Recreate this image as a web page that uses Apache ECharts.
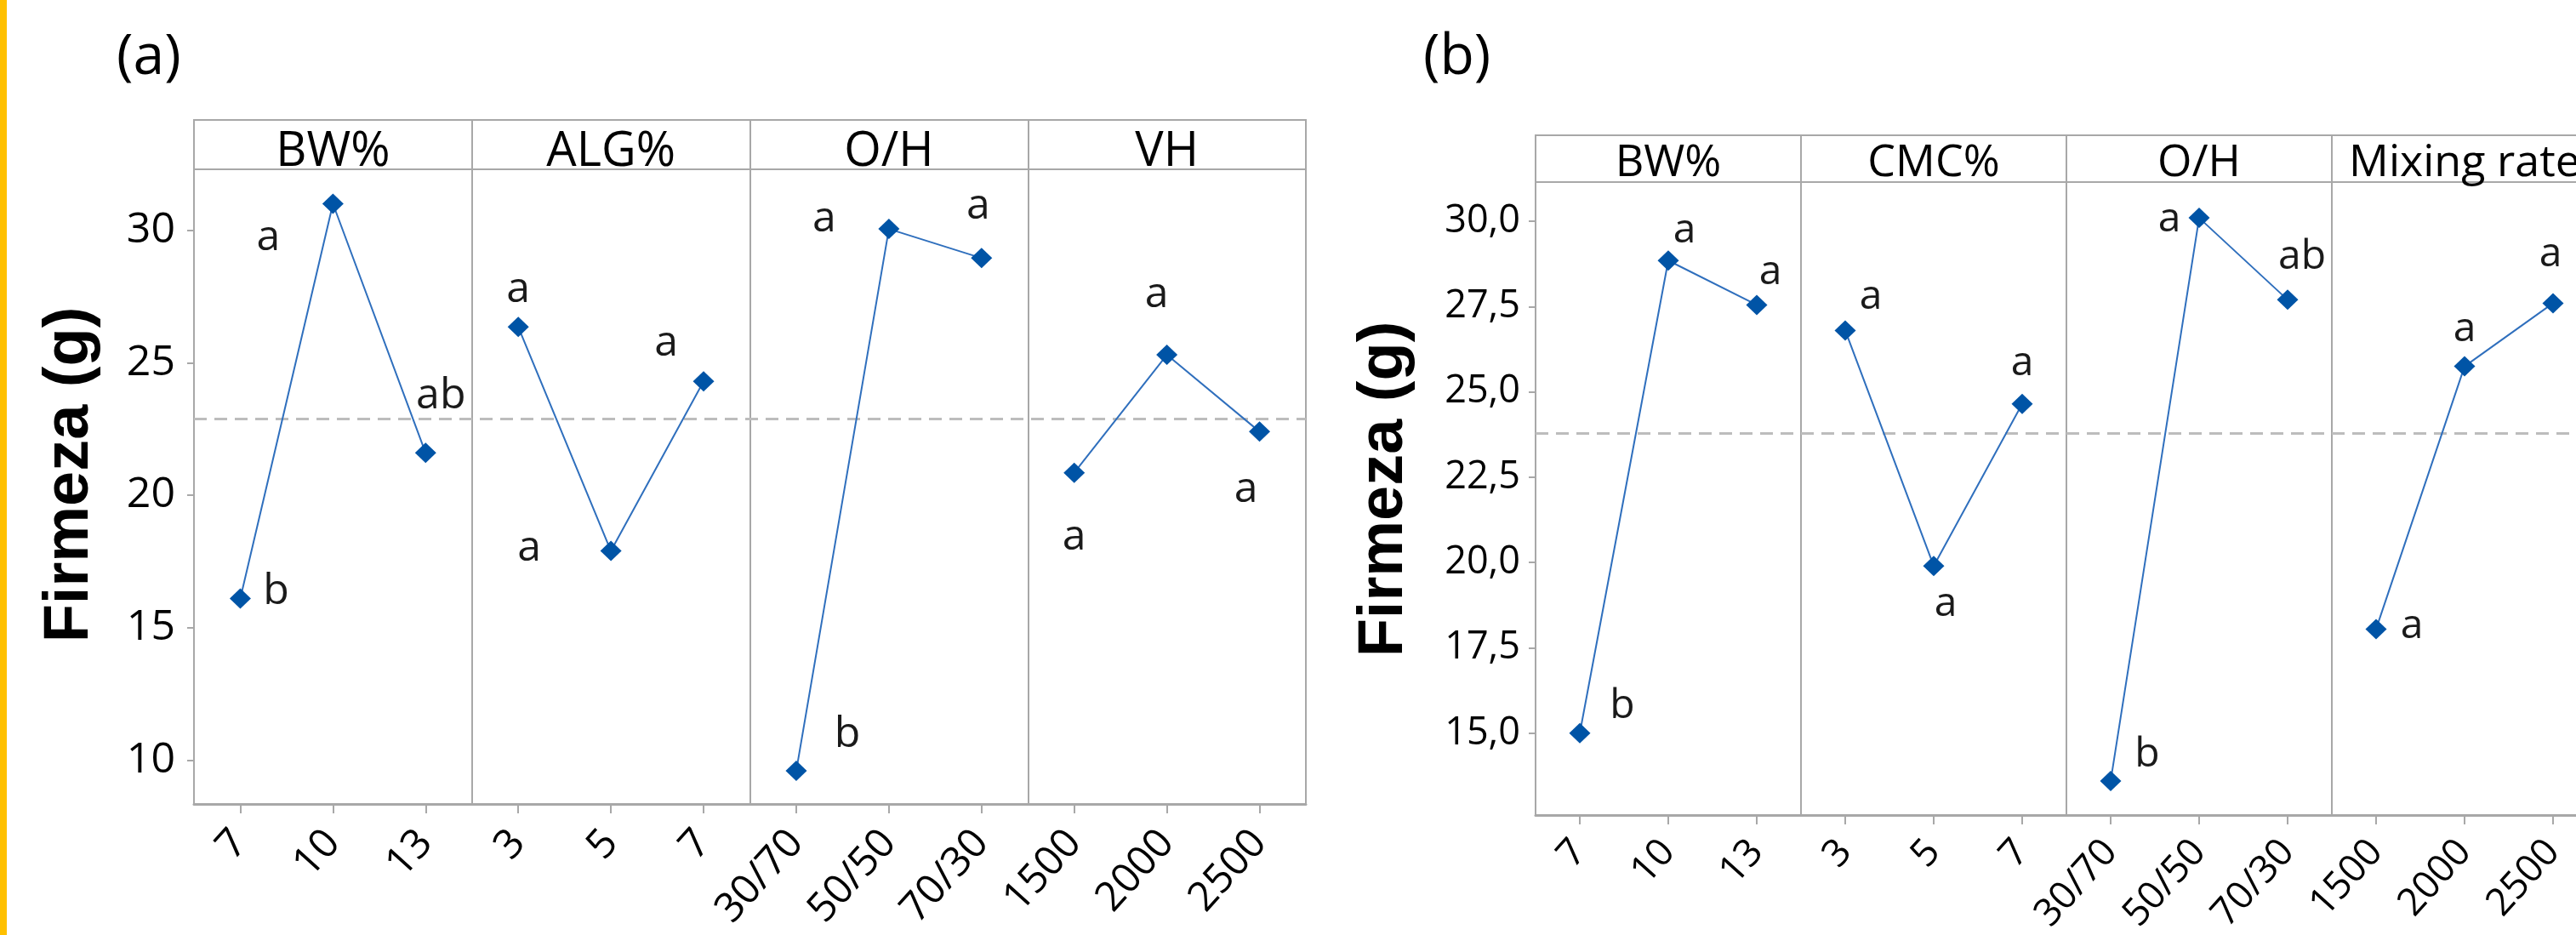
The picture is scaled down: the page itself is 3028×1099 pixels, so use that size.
<!DOCTYPE html>
<html>
<head>
<meta charset="utf-8">
<script src="https://cdn.jsdelivr.net/npm/echarts@6/dist/echarts.min.js"></script>
<style>
html,body{margin:0;padding:0;background:#fff;}
#c{width:3028px;height:1099px;}
</style>
</head>
<body>
<div id="c"></div>
<script>
// ---------- DATA ----------
// Panel (a)
const catsA = ['7','10','13','3','5','7','30/70','50/50','70/30','1500','2000','2500'];
const factorsA = ['BW%','ALG%','O/H','VH'];
const bwA  = [16.1, 31.0, 21.6];
const algA = [26.35, 17.9, 24.3];
const ohA  = [9.6, 30.05, 28.95];
const vhA  = [20.85, 25.3, 22.4];
const lettersA = ['b','a','ab','a','a','a','b','a','a','a','a','a'];
const meanA = 22.9;
const yTicksA = [10, 15, 20, 25, 30];

// Panel (b)
const catsB = ['7','10','13','3','5','7','30/70','50/50','70/30','1500','2000','2500'];
const factorsB = ['BW%','CMC%','O/H','Mixing rate'];
const bwB  = [15.0, 28.85, 27.55];
const cmcB = [26.8, 19.9, 24.65];
const ohB  = [13.6, 30.1, 27.7];
const mixB = [18.05, 25.75, 27.6];
const lettersB = ['b','a','a','a','a','a','b','a','ab','a','a','a'];
const meanB = 23.8;
const yTicksB = [15, 17.5, 20, 22.5, 25, 27.5, 30];

const yTitle = 'Firmeza (g)';

// ---------- LAYOUT (label offsets in px, relative to the point) ----------
const offA = [[42,-8],[-76,40],[18,-67],[0,-44],[-96,-3],[-44,-44],[60,-42],[-76,-11],[-4,-61],[0,76],[-12,-70],[-16,68]];
const offB = [[50,-31],[19,-35],[16,-38],[30,-39],[14,45],[0,-47],[43,-31],[-35,2],[17,-50],[42,-3],[0,-43],[-3,-57]];

const FONT = '"Open Sans", "Noto Sans", sans-serif';
const LINE = '#2f6fbd';
const MARK = '#0054a6';
const FRAME = '#a8a8a8';

function buildSeries(groups, letters, offs, xIdx, yIdx, mean, lblSize) {
  return groups.map((vals, k) => ({
    type: 'line',
    xAxisIndex: xIdx, yAxisIndex: yIdx,
    symbol: 'diamond', symbolSize: [25, 24],
    lineStyle: { color: LINE, width: 2 },
    itemStyle: { color: MARK },
    z: 5,
    label: { show: true, position: 'inside', fontSize: lblSize, fontFamily: FONT, color: '#1a1a1a' },
    data: vals.map((v, i) => ({
      value: [3 * k + i, v],
      label: { formatter: letters[3 * k + i], offset: offs[3 * k + i] }
    })),
    markLine: k === 0 ? {
      silent: true, symbol: 'none', label: { show: false }, z: 2,
      lineStyle: { color: '#bdbdbd', type: [15, 9], width: 3 },
      data: [{ yAxis: mean }]
    } : undefined
  }));
}

const chart = echarts.init(document.getElementById('c'), null, { renderer: 'canvas' });

const fmtB = v => v.toFixed(1).replace('.', ',');

const gridBase = { show: true, borderColor: FRAME, borderWidth: 2, backgroundColor: 'transparent', containLabel: false, outerBoundsMode: 'none' };

const option = {
  animation: false,
  backgroundColor: '#ffffff',
  title: [
    { text: '(a)', left: 132, top: 30, textStyle: { fontSize: 66, fontWeight: 'normal', fontFamily: FONT, color: '#000' } },
    { text: '(b)', left: 1668, top: 30, textStyle: { fontSize: 66, fontWeight: 'normal', fontFamily: FONT, color: '#000' } }
  ],
  graphic: [
    { type: 'rect', left: 0, top: 0, shape: { width: 8, height: 1099 }, style: { fill: '#ffc000' } }
  ],
  grid: [
    Object.assign({ left: 228, top: 199, width: 1307, height: 746 }, gridBase),
    Object.assign({ left: 228, top: 141, width: 1307, height: 58 }, gridBase),
    Object.assign({ left: 1805, top: 214, width: 1248, height: 744 }, gridBase),
    Object.assign({ left: 1805, top: 159, width: 1248, height: 55 }, gridBase)
  ],
  xAxis: [
    {
      gridIndex: 0, type: 'category', data: catsA, boundaryGap: true,
      axisLine: { show: true, lineStyle: { color: FRAME, width: 3 } },
      axisTick: { show: true, alignWithLabel: true, length: 11, lineStyle: { color: FRAME, width: 2 } },
      axisLabel: { rotate: 48, margin: 38, fontSize: 48, fontFamily: FONT, color: '#000', interval: 0 },
      splitLine: { show: true, interval: (i) => i % 3 === 0 && i > 0, lineStyle: { color: FRAME, width: 2 } }
    },
    {
      gridIndex: 1, type: 'category', data: factorsA, boundaryGap: true, position: 'bottom',
      axisLine: { show: false }, axisTick: { show: false },
      axisLabel: { inside: true, margin: 20, verticalAlign: 'middle', fontSize: 56, fontFamily: FONT, color: '#000', interval: 0 },
      splitLine: { show: true, lineStyle: { color: FRAME, width: 2 } }
    },
    {
      gridIndex: 2, type: 'category', data: catsB, boundaryGap: true,
      axisLine: { show: true, lineStyle: { color: FRAME, width: 3 } },
      axisTick: { show: true, alignWithLabel: true, length: 11, lineStyle: { color: FRAME, width: 2 } },
      axisLabel: { rotate: 48, margin: 36, fontSize: 45, fontFamily: FONT, color: '#000', interval: 0 },
      splitLine: { show: true, interval: (i) => i % 3 === 0 && i > 0, lineStyle: { color: FRAME, width: 2 } }
    },
    {
      gridIndex: 3, type: 'category', data: factorsB, boundaryGap: true, position: 'bottom',
      axisLine: { show: false }, axisTick: { show: false },
      axisLabel: { inside: true, margin: 22, verticalAlign: 'middle', fontSize: 52, fontFamily: FONT, color: '#000', interval: 0 },
      splitLine: { show: true, lineStyle: { color: FRAME, width: 2 } }
    }
  ],
  yAxis: [
    {
      gridIndex: 0, type: 'value', min: 8.35, max: 32.3,
      name: yTitle, nameLocation: 'middle', nameGap: 108, nameRotate: 90,
      nameTextStyle: { fontSize: 74, fontWeight: 'bold', fontFamily: '"Liberation Sans", Arial, sans-serif', color: '#000', padding: [0, 0, 0, 28] },
      axisLine: { show: false },
      axisTick: { show: true, length: 8, customValues: yTicksA, lineStyle: { color: FRAME, width: 2 } },
      axisLabel: { customValues: yTicksA, margin: 22, fontSize: 50, fontFamily: FONT, color: '#000' },
      splitLine: { show: false }
    },
    { gridIndex: 1, type: 'value', show: false, min: 0, max: 1 },
    {
      gridIndex: 2, type: 'value', min: 12.6, max: 31.15,
      name: yTitle, nameLocation: 'middle', nameGap: 140, nameRotate: 90,
      nameTextStyle: { fontSize: 74, fontWeight: 'bold', fontFamily: '"Liberation Sans", Arial, sans-serif', color: '#000', padding: [0, 0, 0, 22] },
      axisLine: { show: false },
      axisTick: { show: true, length: 8, customValues: yTicksB, lineStyle: { color: FRAME, width: 2 } },
      axisLabel: { customValues: yTicksB, formatter: fmtB, margin: 18, fontSize: 45, fontFamily: FONT, color: '#000' },
      splitLine: { show: false }
    },
    { gridIndex: 3, type: 'value', show: false, min: 0, max: 1 }
  ],
  series: [
    ...buildSeries([bwA, algA, ohA, vhA], lettersA, offA, 0, 0, meanA, 50),
    ...buildSeries([bwB, cmcB, ohB, mixB], lettersB, offB, 2, 2, meanB, 48)
  ]
};

chart.setOption(option);
</script>
</body>
</html>
